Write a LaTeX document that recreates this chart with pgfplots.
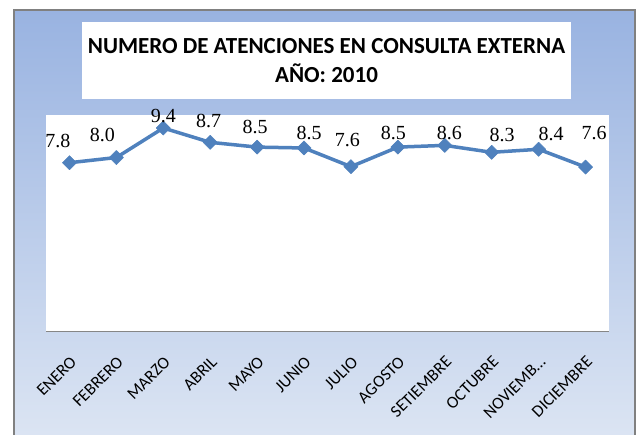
\documentclass[border=0pt]{standalone}
\usepackage{fontspec}
\setmainfont{Carlito}
\newfontfamily\lserif{Liberation Serif}
\usepackage{pgfplots}
\usepackage{pgfplotstable}
\pgfplotsset{compat=1.18}
\definecolor{bgtop}{HTML}{99B3E1}
\definecolor{bgbot}{HTML}{DCE5F3}
\definecolor{linec}{HTML}{4F81BD}
\definecolor{framec}{HTML}{808080}
\definecolor{axc}{HTML}{868686}

\pgfplotstableread{
x y dx dy
0 7.80 -11.5 21.3
1 8.04 -14 23
2 9.40 0 12
3 8.74 -1.5 21
4 8.52 -2 20
5 8.48 5 15
6 7.62 -3.5 27
7 8.52 -4.5 14
8 8.60 4.5 12
9 8.28 10.5 17.7
10 8.42 12.5 15
11 7.60 8.5 34.5
}\datatable

\begin{document}
\begin{tikzpicture}[x=1pt,y=1pt]
\useasboundingbox (0,0) rectangle (641,435);
\clip (0,0) rectangle (641,435);
\shade[top color=bgtop, bottom color=bgbot] (14.3,-5) rectangle (635,424.7);
\draw[framec, line width=2pt] (14.3,-5) -- (14.3,424.7) -- (635,424.7) -- (635,-5);
\node[fill=white, minimum width=489pt, minimum height=77pt, inner sep=0pt, align=center,
      font=\bfseries\fontsize{23}{28.5}\selectfont] at (326.5,374.5)
      {NUMERO DE ATENCIONES EN CONSULTA EXTERNA\\AÑO: 2010};
\begin{axis}[
  at={(46pt,103pt)}, anchor=south west, scale only axis,
  width=563pt, height=217pt,
  xmin=-0.5, xmax=11.5, ymin=0, ymax=10,
  axis x line*=bottom, axis y line=none,
  x axis line style={draw=axc, line width=1pt},
  ytick=\empty, xtick={0,...,11},
  xticklabels={ENERO,FEBRERO,MARZO,ABRIL,MAYO,JUNIO,JULIO,AGOSTO,SETIEMBRE,OCTUBRE,NOVIEMB…,DICIEMBRE},
  major tick length=0pt,
  xticklabel shift=23pt,
  xticklabel style={font=\fontsize{17}{18}\selectfont, inner sep=0pt, rotate=45, anchor=north east},
  axis background/.style={fill=white},
  clip=false,
]
\addplot[linec, line width=3.5pt, line join=round,
  mark=square*, mark size=5pt,
  mark options={rotate=45, solid, line width=0.5pt, fill=linec, draw=linec},
  point meta=y,
  visualization depends on={\thisrow{dx}\as\dx},
  visualization depends on={\thisrow{dy}\as\dy},
  nodes near coords={\pgfmathprintnumber[fixed,fixed zerofill,precision=1,assume math mode=true]{\pgfplotspointmeta}},
  every node near coord/.append style={anchor=center, xshift=\dx pt, yshift=\dy pt,
     font=\lserif\fontsize{20}{21}\selectfont, text=black, inner sep=0pt},
] table[x=x,y=y]{\datatable};
\end{axis}
\end{tikzpicture}
\end{document}
